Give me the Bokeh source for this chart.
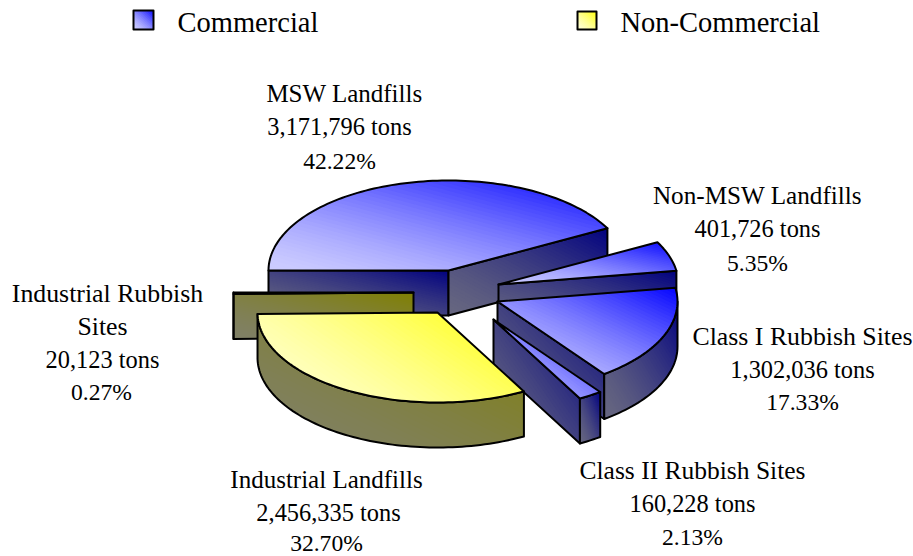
import math
from bokeh.plotting import figure
from bokeh.models import Range1d, ColumnDataSource
from bokeh.core.properties import value
from bokeh.embed import file_html
from bokeh.resources import INLINE

# ---- data ----
categories = ["MSW Landfills", "Non-MSW Landfills", "Class I Rubbish Sites",
              "Class II Rubbish Sites", "Industrial Landfills", "Industrial Rubbish Sites"]
tons = [3171796, 401726, 1302036, 160228, 2456335, 20123]
percents = [42.22, 5.35, 17.33, 2.13, 32.70, 0.27]
groups = ["Commercial", "Commercial", "Commercial", "Commercial", "Non-Commercial", "Non-Commercial"]
legend_names = ["Commercial", "Non-Commercial"]

# ---- layout (screen pixels) ----
RX, RY, DEPTH = 180, 90, 45
slice_cx = [448, 498, 497, 493, 437, 413]
slice_cy = [270, 284, 301, 319, 312, 292]
draw_order = [0, 1, 2, 3, 5, 4]
label_lines = [
    [categories[0]],
    [categories[1]],
    [categories[2]],
    [categories[3]],
    [categories[4]],
    ["Industrial Rubbish", "Sites"],
]
label_centers = [
    [344, 339, 339],
    [757, 757, 757],
    [802, 802, 802],
    [692, 692, 692],
    [326, 328, 326],
    [107, 102, 102, 101],
]
label_rows_y = [
    [93, 126, 160],
    [195, 228, 262],
    [336, 369, 401],
    [470, 503, 536],
    [479, 512, 542],
    [293, 326, 359, 391],
]
name_font_px = [25, 25.2, 25.8, 25.5, 25, 25.8]
TONS_PX = 24.4
PCT_PX = 23.6
LEGEND_PX = 28.5
swatches = [(133, 10, 153, 29), (577, 11, 596, 29)]
legend_text_x = [177, 620]
legend_text_y = [22, 22]

PALETTE = {
    "Commercial": {"top": ((204, 204, 255), (0, 0, 255)), "wall": ((102, 102, 128), (0, 0, 128))},
    "Non-Commercial": {"top": ((255, 255, 210), (255, 255, 0)), "wall": ((128, 128, 102), (128, 128, 0))},
}
GAMMA = 1.4

xs, ys, fills, falpha, lalpha = [], [], [], [], []


def clip(poly, nx, ny, c):
    out = []
    for i, (x0, y0) in enumerate(poly):
        x1, y1 = poly[(i + 1) % len(poly)]
        d0 = nx * x0 + ny * y0 - c
        d1 = nx * x1 + ny * y1 - c
        if d0 >= 0:
            out.append((x0, y0))
        if (d0 >= 0) != (d1 >= 0):
            k = d0 / (d0 - d1)
            out.append((x0 + k * (x1 - x0), y0 + k * (y1 - y0)))
    return out


def mix(c0, c1, t):
    r, g, b = (round(a + (b_ - a) * t) for a, b_ in zip(c0, c1))
    return f"#{r:02x}{g:02x}{b:02x}"


def add(poly, fill, fa, la):
    xs.append([p[0] for p in poly])
    ys.append([p[1] for p in poly])
    fills.append(fill)
    falpha.append(fa)
    lalpha.append(la)


def shaded(poly, colours, bands=48, k=1.0):
    """Corner-to-corner gradient over the face's box, painted as nested half-plane clips."""
    c0, c1 = colours
    xmin = min(q[0] for q in poly)
    xmax = max(q[0] for q in poly)
    ymin = min(q[1] for q in poly)
    ymax = max(q[1] for q in poly)
    w, h = max(xmax - xmin, 1), max(ymax - ymin, 1)
    nx, ny = 1 / w / (1 + k), -k / h / (1 + k)
    base = nx * xmin + ny * ymax
    add(poly, mix(c0, c1, 0), 1, 0)
    for i in range(1, bands):
        t = i / bands
        part = clip(poly, nx, ny, base + t)
        if len(part) >= 3:
            add(part, mix(c0, c1, t ** GAMMA), 1, 0)
    add(poly, "#000000", 0, 1)


def rim(cx, cy, deg):
    a = math.radians(deg)
    return (cx + RX * math.cos(a), cy - RY * math.sin(a))


def arc(cx, cy, a0, a1):
    n = max(2, int(abs(a0 - a1) / 1.5) + 1)
    return [rim(cx, cy, a0 + (a1 - a0) * i / n) for i in range(n + 1)]


# slice angles come from the percentages, clockwise from the left
edges = [180.0]
total = sum(percents)
for pct in percents:
    edges.append(edges[-1] - pct / total * 360.0)

for i in draw_order:
    cx, cy = slice_cx[i], slice_cy[i]
    a0, a1 = edges[i], edges[i + 1]
    pal = PALETTE[groups[i]]
    for ang in (a0, a1):
        c = math.cos(math.radians(ang))
        visible = c < -1e-9 if ang == a0 else c > 1e-9
        if visible:
            r = rim(cx, cy, ang)
            shaded([(cx, cy), r, (r[0], r[1] + DEPTH), (cx, cy + DEPTH)], pal["wall"])
    hi, lo = min(a0, 0.0), max(a1, -180.0)
    if hi > lo:
        top = arc(cx, cy, hi, lo)
        shaded(top + [(x, y + DEPTH) for x, y in reversed(top)], pal["wall"])
    shaded([(cx, cy)] + arc(cx, cy, a0, a1), pal["top"],
           k=0.5 if groups[i] == "Non-Commercial" else 1.0)

for (x0, y0, x1, y1), name in zip(swatches, legend_names):
    shaded([(x0, y0), (x1, y0), (x1, y1), (x0, y1)], PALETTE[name]["top"], bands=16)

p = figure(width=913, height=556, output_backend="svg", toolbar_location=None,
           x_range=Range1d(0, 913), y_range=Range1d(556, 0),
           x_axis_location=None, y_axis_location=None,
           min_border=0, outline_line_color=None)
p.grid.visible = False

p.patches("xs", "ys", source=ColumnDataSource(dict(xs=xs, ys=ys, fill=fills, fa=falpha, la=lalpha)),
          fill_color="fill", fill_alpha="fa", line_color="#000000", line_alpha="la",
          line_width=2, line_join="round")

tx, ty, tt, tf = [], [], [], []
for i, lines in enumerate(label_lines):
    rows = lines + [f"{tons[i]:,} tons", f"{percents[i]:.2f}%"]
    tx += label_centers[i]
    ty += label_rows_y[i]
    tt += rows
    tf += [f"{name_font_px[i]}px"] * len(lines) + [f"{TONS_PX}px", f"{PCT_PX}px"]
p.text("x", "y", text="t", text_font_size="fs", source=ColumnDataSource(dict(x=tx, y=ty, t=tt, fs=tf)),
       text_font=value("Liberation Serif"),
       text_align="center", text_baseline="middle", text_color="#000000")
p.text(legend_text_x, legend_text_y, text=legend_names, text_font=value("Liberation Serif"),
       text_font_size=f"{LEGEND_PX}px", text_align="left", text_baseline="middle", text_color="#000000")

open("out.html", "w").write(file_html(p, INLINE))
